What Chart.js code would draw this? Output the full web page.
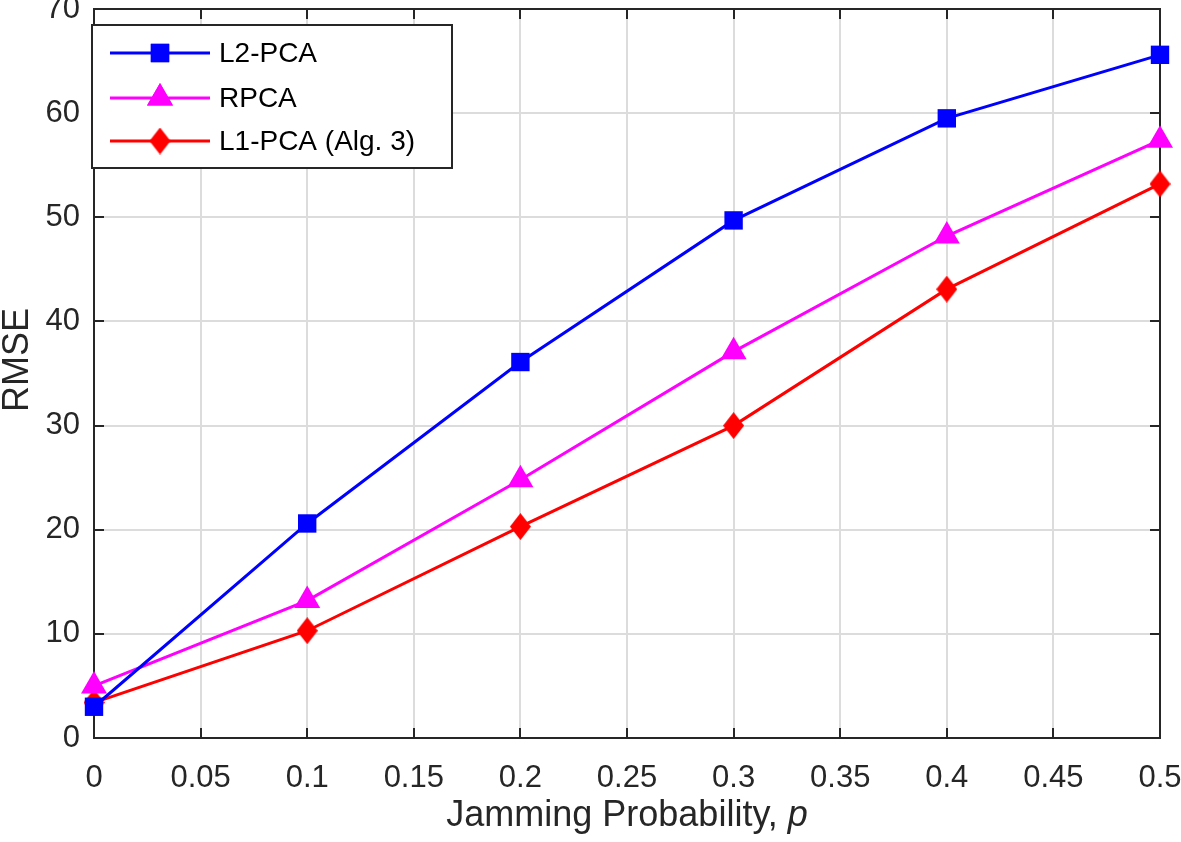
<!DOCTYPE html>
<html>
<head>
<meta charset="utf-8">
<script src="https://cdn.jsdelivr.net/npm/chart.js@4/dist/chart.umd.min.js"></script>
<style>
  html, body { margin: 0; padding: 0; background: #fff; }
  #wrap { width: 1181px; height: 842px; }
</style>
</head>
<body>
<div id="wrap"><canvas id="chart" width="1181" height="842"></canvas></div>
<script>
// values
const jamProb = [0, 0.1, 0.2, 0.3, 0.4, 0.5];
const l2pca = [3.0, 20.6, 36.1, 49.7, 59.5, 65.6];
const rpca = [5.0, 13.2, 24.8, 37.1, 48.2, 57.4];
const l1pca = [3.4, 10.3, 20.3, 30.0, 43.1, 53.2];

const xTicks = [0, 0.05, 0.1, 0.15, 0.2, 0.25, 0.3, 0.35, 0.4, 0.45, 0.5];
const yTicks = [0, 10, 20, 30, 40, 50, 60, 70];

const FONT = '"Liberation Sans", Arial, Helvetica, sans-serif';
const AXIS = '#262626';

const toPoints = (ys) => jamProb.map((x, i) => ({ x, y: ys[i] }));

// MATLAB's diamond is taller than wide, so build it as a small canvas
function diamond(color, w, h) {
  const c = document.createElement('canvas');
  c.width = w; c.height = h;
  const g = c.getContext('2d');
  g.fillStyle = color;
  g.beginPath();
  g.moveTo(w / 2, 0); g.lineTo(w, h / 2); g.lineTo(w / 2, h); g.lineTo(0, h / 2);
  g.closePath();
  g.fill();
  return c;
}

const series = [
  { label: 'L2-PCA', data: l2pca, color: '#0000ff', style: 'rect', radius: 13 },
  { label: 'RPCA', data: rpca, color: '#ff00ff', style: 'triangle', radius: 15 },
  { label: 'L1-PCA (Alg. 3)', data: l1pca, color: '#ff0000', style: diamond('#ff0000', 21, 27), radius: 13 },
];

// keep label overflow from shrinking the plot box
const noOverflow = (s) => {
  s.paddingTop = 0; s.paddingBottom = 0; s.paddingLeft = 0; s.paddingRight = 0;
};

// box + inward ticks like MATLAB "box on", plus axis titles
const framePlugin = {
  id: 'frame',
  beforeDatasetsDraw(chart) {
    const { ctx, chartArea: a, scales } = chart;
    ctx.save();
    ctx.strokeStyle = AXIS;
    ctx.lineWidth = 2;
    ctx.strokeRect(a.left, a.top, a.right - a.left, a.bottom - a.top);
    const len = 10;
    ctx.beginPath();
    xTicks.forEach((t) => {
      const px = Math.round(scales.x.getPixelForValue(t));
      ctx.moveTo(px, a.bottom); ctx.lineTo(px, a.bottom - len);
      ctx.moveTo(px, a.top); ctx.lineTo(px, a.top + len);
    });
    yTicks.forEach((t) => {
      const py = Math.round(scales.y.getPixelForValue(t));
      ctx.moveTo(a.left, py); ctx.lineTo(a.left + len, py);
      ctx.moveTo(a.right, py); ctx.lineTo(a.right - len, py);
    });
    ctx.stroke();

    ctx.fillStyle = AXIS;
    const size = 36;
    const title = 'Jamming Probability, ';
    ctx.font = size + 'px ' + FONT;
    const wTitle = ctx.measureText(title).width;
    ctx.font = 'italic ' + size + 'px ' + FONT;
    const wP = ctx.measureText('p').width;
    const startX = (a.left + a.right) / 2 - (wTitle + wP) / 2;
    ctx.textAlign = 'left';
    ctx.textBaseline = 'alphabetic';
    ctx.font = size + 'px ' + FONT;
    ctx.fillText(title, startX, 826);
    ctx.font = 'italic ' + size + 'px ' + FONT;
    ctx.fillText('p', startX + wTitle, 826);

    ctx.translate(28, 360);
    ctx.rotate(-Math.PI / 2);
    ctx.font = size + 'px ' + FONT;
    ctx.textAlign = 'center';
    ctx.fillText('RMSE', 0, 0);
    ctx.restore();
  },
};

// legend box in the upper-left of the plot
const legendPlugin = {
  id: 'boxLegend',
  afterDraw(chart) {
    const { ctx } = chart;
    const x0 = 92, y0 = 25, w = 360, h = 143;
    ctx.save();
    ctx.fillStyle = '#fff';
    ctx.fillRect(x0, y0, w, h);
    ctx.strokeStyle = AXIS;
    ctx.lineWidth = 2;
    ctx.strokeRect(x0, y0, w, h);
    const rows = [53, 98, 141];
    series.forEach((s, i) => {
      const y = rows[i];
      ctx.strokeStyle = s.color;
      ctx.lineWidth = 3;
      ctx.beginPath();
      ctx.moveTo(110, y); ctx.lineTo(210, y);
      ctx.stroke();
      ctx.fillStyle = s.color;
      Chart.helpers.drawPoint(ctx, { pointStyle: s.style, radius: s.radius, borderWidth: 0 }, 160, y);
      ctx.fill();
      ctx.fillStyle = '#000';
      ctx.font = '28px ' + FONT;
      ctx.textAlign = 'left';
      ctx.textBaseline = 'middle';
      ctx.fillText(s.label, 219, y + 1);
    });
    ctx.restore();
  },
};

new Chart(document.getElementById('chart'), {
  type: 'line',
  data: {
    datasets: series.map((s) => ({
      label: s.label,
      data: toPoints(s.data),
      borderColor: s.color,
      backgroundColor: s.color,
      borderWidth: 3,
      pointStyle: s.style,
      pointRadius: s.radius,
      pointBorderWidth: 0,
      pointBackgroundColor: s.color,
      tension: 0,
      clip: false,
    })),
  },
  options: {
    responsive: false,
    animation: false,
    layout: { autoPadding: false, padding: { top: 9, right: 21, left: 0, bottom: 0 } },
    plugins: { legend: { display: false }, tooltip: { enabled: false } },
    scales: {
      x: {
        type: 'linear',
        min: 0,
        max: 0.5,
        afterFit: (s) => { s.height = 104; noOverflow(s); },
        afterBuildTicks: (s) => { s.ticks = xTicks.map((v) => ({ value: v })); },
        grid: { color: '#dcdcdc', lineWidth: 2, drawTicks: false },
        border: { display: false },
        ticks: {
          color: AXIS,
          font: { family: FONT, size: 31 },
          padding: 22,
          maxRotation: 0,
          callback: (v) => String(v),
        },
      },
      y: {
        min: 0,
        max: 70,
        afterFit: (s) => { s.width = 94; noOverflow(s); },
        afterBuildTicks: (s) => { s.ticks = yTicks.map((v) => ({ value: v })); },
        grid: { color: '#dcdcdc', lineWidth: 2, drawTicks: false },
        border: { display: false },
        ticks: {
          color: AXIS,
          font: { family: FONT, size: 31 },
          padding: 14,
        },
      },
    },
  },
  plugins: [framePlugin, legendPlugin],
});
</script>
</body>
</html>
